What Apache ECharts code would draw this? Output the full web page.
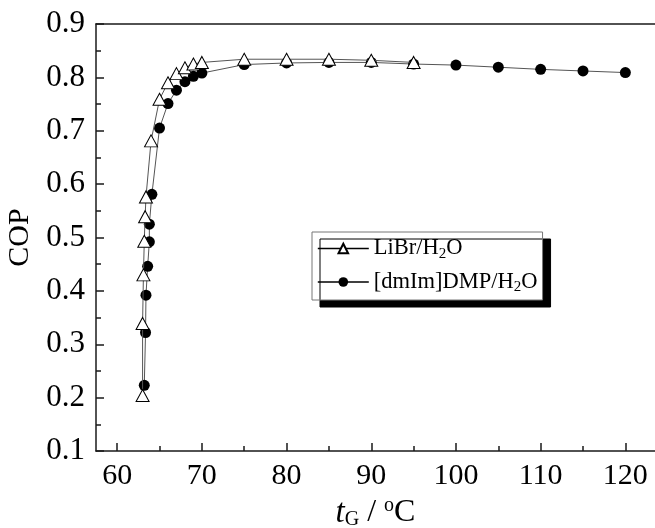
<!DOCTYPE html>
<html>
<head>
<meta charset="utf-8">
<script src="https://cdn.jsdelivr.net/npm/echarts@6/dist/echarts.min.js"></script>
<style>
  html, body { margin: 0; padding: 0; background: #fff; }
  #chart { width: 655px; height: 528px; }
</style>
</head>
<body>
<div id="chart"></div>
<script>
// Generator temperature t_G (°C) and COP for the two working pairs
const librT   = [63.0, 63.0, 63.1, 63.2, 63.3, 63.4, 64, 65, 66, 67, 68, 69, 70, 75, 80, 85, 90, 95];
const librCOP = [0.204, 0.339, 0.430, 0.493, 0.539, 0.576, 0.681, 0.759, 0.790, 0.807, 0.818, 0.825, 0.828, 0.834, 0.834, 0.834, 0.832, 0.828];

const ilT   = [63.2, 63.35, 63.4, 63.6, 63.8, 63.8, 64.1, 65, 66, 67, 68, 69, 70, 75, 80, 85, 90, 95, 100, 105, 110, 115, 120];
const ilCOP = [0.223, 0.322, 0.392, 0.446, 0.492, 0.525, 0.581, 0.705, 0.751, 0.776, 0.792, 0.802, 0.808, 0.824, 0.827, 0.828, 0.828, 0.825, 0.823, 0.819, 0.815, 0.812, 0.809];

// Axis ticks
const xMajorTicks = [60, 70, 80, 90, 100, 110, 120];
const xMinorTicks = [65, 75, 85, 95, 105, 115];

const serif = "'Liberation Serif', 'Times New Roman', Times, serif";
const axisColor = '#1a1a1a';

const pairs = (xs, ys) => xs.map((x, i) => [x, ys[i]]);

const chart = echarts.init(document.getElementById('chart'), null, { renderer: 'canvas' });

chart.setOption({
  backgroundColor: '#fff',
  animation: false,
  grid: { left: 96, top: 24, right: 0, bottom: 77, containLabel: false, outerBoundsMode: 'none' },
  legend: {
    left: 312, top: 232,
    orient: 'vertical',
    data: ['LiBr', 'IL'],
    itemWidth: 51, itemHeight: 12, itemGap: 9,
    padding: [5, 5, 5, 5],
    backgroundColor: '#fff',
    borderColor: '#777', borderWidth: 1,
    shadowColor: '#000', shadowBlur: 0, shadowOffsetX: 8, shadowOffsetY: 7,
    lineStyle: { color: '#000', width: 1.6 },
    textStyle: {
      fontFamily: serif, fontSize: 22, color: '#000',
      rich: {
        m: { fontFamily: serif, fontSize: 22.5, color: '#000', lineHeight: 26 },
        s: { fontFamily: serif, fontSize: 15, color: '#000', lineHeight: 13, verticalAlign: 'bottom' }
      }
    },
    formatter: name => name === 'LiBr'
      ? '{m|LiBr/H}{s|2}{m|O}'
      : '{m|[dmIm]DMP/H}{s|2}{m|O}'
  },
  xAxis: [
    {
      type: 'value', position: 'bottom', min: 57.5, max: 123.5,
      axisLine: { show: true, lineStyle: { color: axisColor, width: 1.5 } },
      axisTick: { show: true, inside: true, length: 8, customValues: xMajorTicks, lineStyle: { color: axisColor, width: 1.5 } },
      axisLabel: { show: true, customValues: xMajorTicks, margin: 10, fontFamily: serif, fontSize: 30, color: '#000' },
      splitLine: { show: false },
      name: '{i|t}{s|G}{m| / }{p|o}{m|C}',
      nameLocation: 'middle', nameGap: 44,
      nameTextStyle: {
        rich: {
          i: { fontFamily: serif, fontStyle: 'italic', fontSize: 33, color: '#000', lineHeight: 34 },
          m: { fontFamily: serif, fontSize: 32, color: '#000', lineHeight: 34 },
          s: { fontFamily: serif, fontSize: 20, color: '#000', lineHeight: 16, verticalAlign: 'bottom' },
          p: { fontFamily: serif, fontSize: 20, color: '#000', lineHeight: 18, verticalAlign: 'top' }
        }
      }
    },
    {
      type: 'value', position: 'bottom', min: 57.5, max: 123.5,
      axisLine: { show: false },
      axisTick: { show: true, inside: true, length: 5, customValues: xMinorTicks, lineStyle: { color: axisColor, width: 1.5 } },
      axisLabel: { show: false },
      splitLine: { show: false }
    },
    {
      type: 'value', position: 'top', min: 57.5, max: 123.5,
      axisLine: { show: true, lineStyle: { color: axisColor, width: 1.5 } },
      axisTick: { show: false }, axisLabel: { show: false }, splitLine: { show: false }
    }
  ],
  yAxis: {
    type: 'value', min: 0.1, max: 0.9, interval: 0.1,
    axisLine: { show: true, lineStyle: { color: axisColor, width: 1.5 } },
    axisTick: { show: true, inside: true, length: 8, lineStyle: { color: axisColor, width: 1.5 } },
    minorTick: { show: true, splitNumber: 2, length: 5, lineStyle: { color: axisColor, width: 1.5 } },
    axisLabel: { margin: 11, fontFamily: serif, fontSize: 31, color: '#000', formatter: v => v.toFixed(1) },
    splitLine: { show: false },
    name: 'COP', nameLocation: 'middle', nameGap: 50, nameRotate: 90,
    nameTextStyle: { fontFamily: serif, fontSize: 30, color: '#000' }
  },
  series: [
    {
      name: 'IL', type: 'line', xAxisIndex: 0,
      data: pairs(ilT, ilCOP),
      symbol: 'circle', symbolSize: 11,
      itemStyle: { color: '#000', borderColor: '#000', borderWidth: 0 },
      lineStyle: { color: '#555', width: 1 },
      z: 2
    },
    {
      name: 'LiBr', type: 'line', xAxisIndex: 0,
      data: pairs(librT, librCOP),
      symbol: 'triangle', symbolSize: [13, 12],
      itemStyle: { color: '#fff', borderColor: '#000', borderWidth: 1 },
      lineStyle: { color: '#555', width: 1 },
      z: 3
    }
  ]
});
</script>
</body>
</html>
